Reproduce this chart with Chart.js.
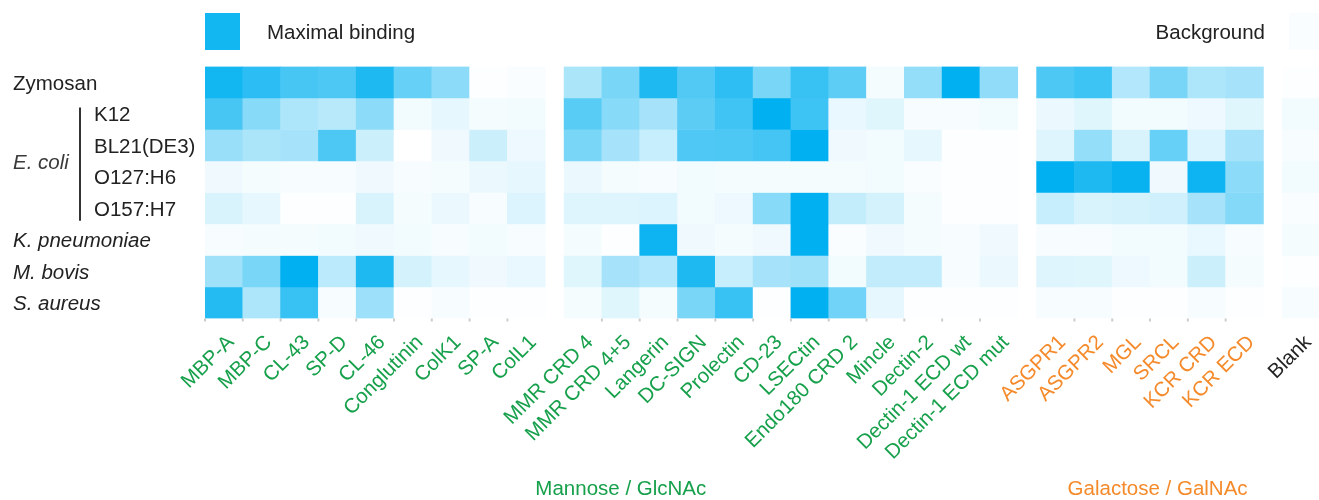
<!DOCTYPE html>
<html lang="en">
<head>
<meta charset="UTF-8">
<title>Lectin binding to microbes</title>
<script src="https://cdn.jsdelivr.net/npm/chart.js"></script>
<style>
  html, body { margin: 0; padding: 0; background: #fff; }
  #wrap { width: 1319px; height: 500px; position: relative; }
</style>
</head>
<body>
<div id="wrap"><canvas id="heat"></canvas></div>
<script>
// column groups (left to right)
const collectinCols = ['MBP-A', 'MBP-C', 'CL-43', 'SP-D', 'CL-46', 'Conglutinin', 'ColK1', 'SP-A', 'ColL1'];
const mannoseCols = ['MMR CRD 4', 'MMR CRD 4+5', 'Langerin', 'DC-SIGN', 'Prolectin', 'CD-23', 'LSECtin',
                     'Endo180 CRD 2', 'Mincle', 'Dectin-2', 'Dectin-1 ECD wt', 'Dectin-1 ECD mut'];
const galactoseCols = ['ASGPR1', 'ASGPR2', 'MGL', 'SRCL', 'KCR CRD', 'KCR ECD'];
const blankCols = ['Blank'];

const rowLabels = ['Zymosan', 'K12', 'BL21(DE3)', 'O127:H6', 'O157:H7', 'K. pneumoniae', 'M. bovis', 'S. aureus'];

// relative binding, 0 = background, 1 = maximal binding (collectins | mannose | galactose | blank)
const zymosan = [.93, .83, .72, .70, .88, .60, .45, .01, .02,  .33, .52, .88, .68, .82, .52, .78, .63, .04, .42, 1.0, .43,  .70, .76, .30, .53, .32, .35,  .01];
const k12     = [.72, .47, .32, .28, .45, .05, .10, .04, .05,  .65, .47, .35, .64, .75, 1.0, .76, .09, .12, .03, .03, .05,  .08, .12, .05, .05, .07, .12,  .05];
const bl21    = [.40, .33, .35, .70, .20, .00, .06, .20, .07,  .52, .35, .22, .69, .70, .73, 1.0, .06, .05, .10, .01, .01,  .13, .42, .15, .60, .14, .35,  .03];
const o127    = [.06, .04, .03, .03, .06, .03, .04, .08, .10,  .08, .04, .03, .05, .04, .04, .04, .04, .05, .02, .01, .01,  1.0, .88, .97, .06, .95, .45,  .05];
const o157    = [.15, .10, .01, .01, .15, .04, .08, .03, .14,  .13, .13, .14, .05, .07, .47, 1.0, .23, .17, .04, .01, .01,  .22, .15, .17, .19, .35, .48,  .02];
const kpneu   = [.03, .04, .04, .05, .06, .05, .03, .05, .03,  .04, .01, .95, .06, .04, .06, 1.0, .02, .06, .04, .03, .06,  .03, .03, .05, .05, .09, .03,  .04];
const mbovis  = [.38, .52, 1.0, .27, .88, .17, .10, .06, .09,  .12, .35, .30, .88, .22, .35, .38, .05, .24, .24, .03, .08,  .13, .12, .07, .05, .20, .04,  .01];
const saureus = [.86, .32, .78, .03, .39, .01, .03, .01, .01,  .04, .12, .04, .52, .78, .01, 1.0, .56, .10, .01, .01, .01,  .03, .03, .01, .01, .03, .01,  .03];
const rows = [zymosan, k12, bl21, o127, o157, kpneu, mbovis, saureus];

const GREEN = '#17a04b', ORANGE = '#f58a2a', TEXT = '#222';
const FONT = '"Liberation Sans", Arial, sans-serif';

// lay the groups out on a linear x axis, half a column between groups
const groups = [collectinCols, mannoseCols, galactoseCols, blankCols];
const groupColors = [GREEN, GREEN, ORANGE, TEXT];
const colLabels = [], colColors = [], colPos = [], colMarks = [];
let start = 0;
groups.forEach((g, gi) => {
    g.forEach((lab, i) => {
        colLabels.push(lab);
        colColors.push(groupColors[gi]);
        colPos.push(start + i + 0.5);
        if (i > 0 || gi === 0) colMarks.push(start + i);
    });
    start += g.length + 0.5;
});

function heat(v) {
    return `rgb(${Math.round(255 - 255 * v)}, ${Math.round(255 - 79 * v)}, ${Math.round(255 - 15 * v)})`;
}

const datasets = rows.map((vals, r) => ({
    label: rowLabels[r],
    data: vals.map((v, c) => ({ x: colPos[c], y: [r, r + 1] })),
    backgroundColor: vals.map(heat),
    borderWidth: 0,
    grouped: false,
    categoryPercentage: 1,
    barPercentage: 1
}));

const extras = {
    id: 'extras',
    afterDraw(chart) {
        const { ctx, scales: { x, y } } = chart;
        ctx.save();
        ctx.textBaseline = 'middle';

        // legend
        ctx.fillStyle = heat(0.93);
        ctx.fillRect(205, 13, 35, 37);
        ctx.fillStyle = heat(0.02);
        ctx.fillRect(1289, 13, 30, 37);
        ctx.font = '20.5px ' + FONT;
        ctx.fillStyle = TEXT;
        ctx.textAlign = 'left';
        ctx.fillText('Maximal binding', 267, 33);
        ctx.textAlign = 'right';
        ctx.fillText('Background', 1265, 33);

        // row labels
        ctx.textAlign = 'left';
        rowLabels.forEach((lab, r) => {
            const py = y.getPixelForValue(r + 0.5) + 2;
            const strain = r >= 1 && r <= 4;
            ctx.font = (r >= 5 ? 'italic ' : '') + '20.5px ' + FONT;
            ctx.fillStyle = TEXT;
            ctx.fillText(lab, strain ? 94 : 13, py);
        });
        ctx.font = 'italic 20.5px ' + FONT;
        ctx.fillStyle = '#3a3a3a';
        ctx.fillText('E. coli', 13, (y.getPixelForValue(1) + y.getPixelForValue(5)) / 2 + 2);
        ctx.strokeStyle = '#333';
        ctx.lineWidth = 2;
        ctx.beginPath();
        ctx.moveTo(80, y.getPixelForValue(1.3));
        ctx.lineTo(80, y.getPixelForValue(4.9));
        ctx.stroke();

        // small tick marks under the cells
        ctx.strokeStyle = '#cccccc';
        ctx.lineWidth = 2;
        colMarks.forEach(m => {
            const px = x.getPixelForValue(m);
            ctx.beginPath();
            ctx.moveTo(px, y.bottom);
            ctx.lineTo(px, y.bottom + 3);
            ctx.stroke();
        });

        // group titles
        ctx.font = '20.5px ' + FONT;
        ctx.textAlign = 'center';
        ctx.fillStyle = GREEN;
        ctx.fillText('Mannose / GlcNAc', x.getPixelForValue(11.0), 489);
        ctx.fillStyle = ORANGE;
        ctx.fillText('Galactose / GalNAc', x.getPixelForValue(25.2), 489);
        ctx.restore();
    }
};

new Chart(document.getElementById('heat'), {
    type: 'bar',
    data: { datasets },
    options: {
        responsive: true,
        maintainAspectRatio: false,
        animation: false,
        layout: { padding: { left: 205, top: 66.5, right: 0, bottom: 0 } },
        plugins: { legend: { display: false }, tooltip: { enabled: false } },
        scales: {
            x: {
                type: 'linear',
                offset: false,
                min: 0,
                max: 29.47,
                grid: { display: false, offset: false },
                border: { display: false },
                afterBuildTicks: s => { s.ticks = colPos.map(v => ({ value: v })); },
                afterFit: s => { s.height = 181.5; s.paddingLeft = 0; s.paddingRight = 0; },
                ticks: {
                    autoSkip: false,
                    minRotation: 45,
                    maxRotation: 45,
                    padding: 4,
                    labelOffset: 7,
                    font: { family: FONT, size: 20.5 },
                    color: c => colColors[c.index],
                    callback: (v, i) => colLabels[i]
                }
            },
            y: {
                type: 'linear',
                min: 0,
                max: 8,
                reverse: true,
                display: false
            }
        }
    },
    plugins: [extras]
});
</script>
</body>
</html>
